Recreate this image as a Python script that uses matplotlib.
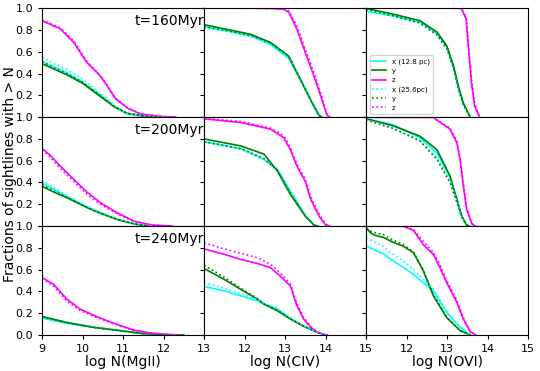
import matplotlib
matplotlib.use('Agg')
import matplotlib.pyplot as plt

# column densities (log N) and cumulative fractions

times = ['t=160Myr', 't=200Myr', 't=240Myr']
ions = ['MgII', 'CIV', 'OVI']
xlims = [(9, 13), (11, 15), (11, 15)]

# ---- t=160Myr ----
mg160_z_n = [9.0, 9.45, 9.78, 10.11, 10.44, 10.6, 10.81, 11.1, 11.43, 11.93, 12.3]
mg160_z = [0.885, 0.81, 0.685, 0.50, 0.376, 0.29, 0.17, 0.085, 0.028, 0.006, 0.0]
mg160_z2 = [0.89, 0.82, 0.70, 0.51, 0.38, 0.295, 0.175, 0.088, 0.03, 0.007, 0.0]
mg160_xy_n = [9.0, 9.3, 9.6, 10.0, 10.4, 10.8, 11.1, 11.5, 12.0]
mg160_x = [0.51, 0.46, 0.41, 0.32, 0.21, 0.09, 0.03, 0.008, 0.0]
mg160_x2 = [0.55, 0.49, 0.44, 0.35, 0.23, 0.10, 0.035, 0.01, 0.0]
mg160_y = [0.49, 0.44, 0.39, 0.31, 0.20, 0.09, 0.035, 0.01, 0.0]
mg160_y2 = [0.51, 0.45, 0.40, 0.32, 0.21, 0.095, 0.035, 0.01, 0.0]

c160_z_n = [11.0, 12.0, 12.6, 12.97, 13.09, 13.29, 13.5, 13.7, 13.91, 14.03, 14.1]
c160_z = [1.0, 1.0, 0.998, 0.99, 0.963, 0.81, 0.59, 0.39, 0.16, 0.02, 0.0]
c160_z2 = [1.0, 1.0, 0.998, 0.995, 0.975, 0.84, 0.62, 0.42, 0.19, 0.03, 0.0]
c160_xy_n = [11.0, 11.5, 12.15, 12.64, 13.09, 13.38, 13.63, 13.83, 13.9]
c160_x = [0.83, 0.795, 0.745, 0.665, 0.54, 0.34, 0.155, 0.015, 0.0]
c160_x2 = [0.82, 0.79, 0.745, 0.67, 0.55, 0.345, 0.16, 0.02, 0.0]
c160_y = [0.848, 0.81, 0.76, 0.685, 0.56, 0.345, 0.16, 0.02, 0.0]
c160_y2 = [0.83, 0.80, 0.75, 0.68, 0.555, 0.34, 0.155, 0.02, 0.0]

o160_z_n = [11.0, 13.0, 13.35, 13.47, 13.53, 13.6, 13.68, 13.8]
o160_z = [1.0, 1.0, 0.998, 0.90, 0.62, 0.32, 0.1, 0.0]
o160_z2 = [1.0, 1.0, 0.998, 0.92, 0.66, 0.36, 0.13, 0.0]
o160_xy_n = [11.0, 11.67, 12.33, 12.75, 12.99, 13.16, 13.28, 13.4, 13.57]
o160_x = [0.97, 0.93, 0.87, 0.77, 0.645, 0.46, 0.27, 0.12, 0.0]
o160_x2 = [0.985, 0.925, 0.86, 0.75, 0.625, 0.445, 0.255, 0.11, 0.0]
o160_y = [0.998, 0.945, 0.885, 0.78, 0.655, 0.47, 0.28, 0.13, 0.0]
o160_y2 = [0.99, 0.93, 0.865, 0.755, 0.63, 0.45, 0.26, 0.11, 0.0]

# ---- t=200Myr ----
mg200_z_n = [9.0, 9.2, 9.45, 9.78, 10.11, 10.44, 10.86, 11.27, 11.7, 12.2]
mg200_z = [0.71, 0.65, 0.55, 0.43, 0.31, 0.215, 0.12, 0.045, 0.01, 0.0]
mg200_z2 = [0.70, 0.635, 0.53, 0.41, 0.29, 0.20, 0.11, 0.04, 0.01, 0.0]
mg200_xy_n = [9.0, 9.3, 9.61, 10.11, 10.44, 10.86, 11.27, 11.6]
mg200_x = [0.395, 0.335, 0.27, 0.175, 0.12, 0.06, 0.02, 0.0]
mg200_x2 = [0.41, 0.35, 0.28, 0.18, 0.125, 0.065, 0.02, 0.0]
mg200_y = [0.365, 0.31, 0.26, 0.17, 0.117, 0.06, 0.02, 0.0]
mg200_y2 = [0.38, 0.32, 0.265, 0.17, 0.117, 0.06, 0.02, 0.0]

c200_z_n = [11.0, 11.91, 12.64, 12.97, 13.13, 13.29, 13.5, 13.63, 13.84, 14.0, 14.1]
c200_z = [0.985, 0.95, 0.89, 0.81, 0.70, 0.55, 0.41, 0.245, 0.09, 0.01, 0.0]
c200_z2 = [0.99, 0.96, 0.90, 0.83, 0.72, 0.57, 0.43, 0.27, 0.11, 0.02, 0.0]
c200_xy_n = [11.0, 11.91, 12.48, 12.81, 13.13, 13.5, 13.71, 13.8]
c200_x = [0.775, 0.71, 0.61, 0.52, 0.32, 0.095, 0.012, 0.0]
c200_x2 = [0.77, 0.705, 0.615, 0.515, 0.31, 0.09, 0.01, 0.0]
c200_y = [0.80, 0.735, 0.66, 0.505, 0.29, 0.09, 0.01, 0.0]
c200_y2 = [0.775, 0.71, 0.62, 0.51, 0.30, 0.09, 0.01, 0.0]

o200_z_n = [11.0, 12.65, 13.07, 13.24, 13.32, 13.4, 13.48, 13.61, 13.7]
o200_z = [0.998, 0.998, 0.89, 0.765, 0.61, 0.37, 0.155, 0.02, 0.0]
o200_z2 = [0.998, 0.998, 0.90, 0.78, 0.63, 0.40, 0.17, 0.025, 0.0]
o200_xy_n = [11.0, 11.67, 12.33, 12.75, 13.07, 13.24, 13.36, 13.48, 13.55]
o200_x = [0.985, 0.93, 0.81, 0.67, 0.45, 0.25, 0.095, 0.012, 0.0]
o200_x2 = [0.98, 0.90, 0.79, 0.63, 0.42, 0.23, 0.085, 0.01, 0.0]
o200_y = [0.985, 0.92, 0.825, 0.70, 0.46, 0.245, 0.09, 0.01, 0.0]
o200_y2 = [0.975, 0.895, 0.78, 0.61, 0.40, 0.22, 0.08, 0.01, 0.0]

# ---- t=240Myr ----
mg240_z_n = [9.0, 9.28, 9.61, 9.94, 10.28, 10.61, 10.94, 11.27, 11.69, 12.1, 12.4]
mg240_z = [0.527, 0.466, 0.33, 0.237, 0.18, 0.13, 0.085, 0.045, 0.018, 0.005, 0.0]
mg240_z2 = [0.52, 0.45, 0.31, 0.225, 0.17, 0.125, 0.08, 0.04, 0.015, 0.004, 0.0]
mg240_xy_n = [9.0, 9.61, 10.28, 10.94, 11.44, 12.0, 12.5]
mg240_x = [0.155, 0.108, 0.07, 0.04, 0.015, 0.003, 0.0]
mg240_x2 = [0.16, 0.11, 0.07, 0.04, 0.015, 0.003, 0.0]
mg240_y = [0.17, 0.116, 0.07, 0.04, 0.015, 0.003, 0.0]
mg240_y2 = [0.165, 0.112, 0.068, 0.038, 0.014, 0.003, 0.0]

c240_z_n = [11.0, 11.5, 11.9, 12.31, 12.64, 12.88, 13.13, 13.29, 13.46, 13.63, 13.79, 13.96, 14.05]
c240_z = [0.79, 0.74, 0.694, 0.657, 0.618, 0.54, 0.45, 0.27, 0.146, 0.07, 0.025, 0.005, 0.0]
c240_z2 = [0.846, 0.79, 0.75, 0.71, 0.65, 0.57, 0.47, 0.29, 0.16, 0.08, 0.03, 0.006, 0.0]
c240_xy_n = [11.0, 11.5, 11.9, 12.31, 12.48, 12.81, 13.13, 13.46, 13.79, 14.0]
c240_x = [0.445, 0.405, 0.36, 0.315, 0.283, 0.24, 0.15, 0.08, 0.025, 0.0]
c240_x2 = [0.48, 0.43, 0.38, 0.325, 0.29, 0.245, 0.155, 0.082, 0.025, 0.0]
c240_y = [0.61, 0.51, 0.42, 0.33, 0.283, 0.222, 0.146, 0.08, 0.025, 0.0]
c240_y2 = [0.64, 0.53, 0.43, 0.335, 0.285, 0.225, 0.15, 0.082, 0.025, 0.0]

o240_z_n = [11.55, 11.92, 12.17, 12.41, 12.66, 12.82, 12.99, 13.24, 13.4, 13.57, 13.7]
o240_z = [0.998, 0.998, 0.96, 0.83, 0.74, 0.62, 0.48, 0.30, 0.146, 0.03, 0.0]
o240_z2 = [0.998, 0.998, 0.97, 0.86, 0.76, 0.65, 0.50, 0.32, 0.16, 0.035, 0.0]
o240_xy_n = [11.0, 11.1, 11.22, 11.43, 11.67, 11.92, 12.17, 12.41, 12.66, 12.99, 13.32, 13.57]
o240_x = [0.815, 0.80, 0.78, 0.745, 0.68, 0.62, 0.555, 0.48, 0.405, 0.207, 0.07, 0.0]
o240_x2 = [0.89, 0.87, 0.85, 0.81, 0.74, 0.68, 0.60, 0.51, 0.42, 0.215, 0.072, 0.0]
o240_y = [0.99, 0.94, 0.915, 0.895, 0.85, 0.815, 0.755, 0.59, 0.36, 0.16, 0.04, 0.0]
o240_y2 = [0.97, 0.955, 0.94, 0.92, 0.87, 0.83, 0.76, 0.60, 0.37, 0.165, 0.042, 0.0]

panels = [
    [(mg160_xy_n, mg160_x, mg160_y, mg160_x2, mg160_y2, mg160_z_n, mg160_z, mg160_z2),
     (c160_xy_n, c160_x, c160_y, c160_x2, c160_y2, c160_z_n, c160_z, c160_z2),
     (o160_xy_n, o160_x, o160_y, o160_x2, o160_y2, o160_z_n, o160_z, o160_z2)],
    [(mg200_xy_n, mg200_x, mg200_y, mg200_x2, mg200_y2, mg200_z_n, mg200_z, mg200_z2),
     (c200_xy_n, c200_x, c200_y, c200_x2, c200_y2, c200_z_n, c200_z, c200_z2),
     (o200_xy_n, o200_x, o200_y, o200_x2, o200_y2, o200_z_n, o200_z, o200_z2)],
    [(mg240_xy_n, mg240_x, mg240_y, mg240_x2, mg240_y2, mg240_z_n, mg240_z, mg240_z2),
     (c240_xy_n, c240_x, c240_y, c240_x2, c240_y2, c240_z_n, c240_z, c240_z2),
     (o240_xy_n, o240_x, o240_y, o240_x2, o240_y2, o240_z_n, o240_z, o240_z2)],
]

fig = plt.figure(figsize=(5.4, 3.71), dpi=100)
axes = fig.subplots(3, 3, gridspec_kw={'hspace': 0, 'wspace': 0})
fig.subplots_adjust(left=0.078, right=0.978, top=0.978, bottom=0.097)

lw = 1.2
for i in range(3):
    for j in range(3):
        ax = axes[i][j]
        n_xy, x1, y1, x2, y2, n_z, z1, z2 = panels[i][j]
        ax.plot(n_xy, x1, color='cyan', lw=lw, label='x (12.8 pc)')
        ax.plot(n_xy, y1, color='green', lw=lw, label='y')
        ax.plot(n_z, z1, color='magenta', lw=lw, label='z')
        ax.plot(n_xy, x2, color='cyan', lw=lw, ls=':', label='x (25.6pc)')
        ax.plot(n_xy, y2, color='green', lw=lw, ls=':', label='y')
        ax.plot(n_z, z2, color='magenta', lw=lw, ls=':', label='z')

        ax.set_xlim(*xlims[j])
        ax.set_ylim(0, 1)
        lo, hi = xlims[j]
        xt = list(range(lo, hi + 1))
        ax.set_xticks(xt)
        ax.set_yticks([0, 0.2, 0.4, 0.6, 0.8, 1.0])
        ax.tick_params(labelsize=8, length=3)

        if i == 2:
            labels = [str(v) for v in xt]
            if j > 0:
                labels[0] = ''
            ax.set_xticklabels(labels)
            ax.set_xlabel('log N({})'.format(ions[j]), fontsize=10, labelpad=1)
        else:
            ax.set_xticklabels([])

        if j == 0:
            ylabels = ['0.0', '0.2', '0.4', '0.6', '0.8', '1.0']
            if i < 2:
                ylabels[0] = ''
            ax.set_yticklabels(ylabels)
            ax.text(1.0, 0.885, times[i], transform=ax.transAxes,
                    ha='right', va='center', fontsize=10)
        else:
            ax.set_yticklabels([])

axes[0][2].legend(loc='lower left', fontsize=5, labelspacing=0.45,
                  frameon=True)
fig.text(0.018, 0.53, 'Fractions of sightlines with > N', rotation=90,
         ha='center', va='center', fontsize=10)

fig.savefig('out.png', dpi=100)
